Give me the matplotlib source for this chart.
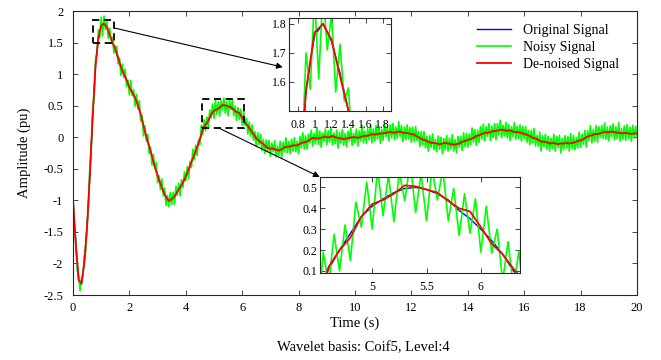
import matplotlib
matplotlib.use('Agg')
import matplotlib.pyplot as plt
import numpy as np
from matplotlib.patches import Rectangle
from matplotlib.ticker import FormatStrFormatter

plt.rcParams['font.family'] = 'serif'
plt.rcParams['font.serif'] = ['Liberation Serif', 'DejaVu Serif']
plt.rcParams['axes.unicode_minus'] = False

# sample times: signals every 0.1 s, noisy signal every 0.05 s
t = np.linspace(0, 20, 201)
t_noisy = np.linspace(0, 20, 401)

# original signal
original = [
    -1.00, -1.72, -2.25, -2.33, -2.00, -1.42, -0.58, 0.35, 1.15, 1.57,
    1.76, 1.80, 1.74, 1.63, 1.50, 1.39, 1.25, 1.12, 1.00, 0.90,
    0.79, 0.70, 0.62, 0.52, 0.36, 0.17, 0.00, -0.15, -0.30, -0.46,
    -0.60, -0.74, -0.86, -0.95, -1.00, -0.99, -0.94, -0.87, -0.79, -0.71,
    -0.63, -0.52, -0.38, -0.28, -0.17, -0.03, 0.11, 0.20, 0.28, 0.36,
    0.41, 0.445, 0.475, 0.495, 0.50, 0.49, 0.47, 0.44, 0.39, 0.35,
    0.30, 0.245, 0.18, 0.10, 0.05, -0.01, -0.06, -0.10, -0.13, -0.16,
    -0.18, -0.19, -0.20, -0.20, -0.19, -0.17, -0.15, -0.14, -0.14, -0.13,
    -0.12, -0.10, -0.08, -0.06, -0.04, -0.02, -0.02, -0.01, -0.01, 0.00,
    0.00, 0.00, 0.01, 0.00, -0.01, -0.02, -0.02, -0.02, -0.01, -0.01,
    0.00, 0.00, 0.00, 0.01, 0.02, 0.03, 0.04, 0.04, 0.05, 0.05,
    0.06, 0.07, 0.07, 0.08, 0.08, 0.08, 0.08, 0.07, 0.07, 0.06,
    0.05, 0.03, 0.01, -0.01, -0.03, -0.05, -0.07, -0.08, -0.09, -0.10,
    -0.10, -0.10, -0.10, -0.10, -0.11, -0.11, -0.11, -0.10, -0.08, -0.06,
    -0.04, -0.02, -0.01, 0.01, 0.03, 0.05, 0.06, 0.07, 0.08, 0.09,
    0.10, 0.11, 0.11, 0.11, 0.10, 0.10, 0.09, 0.09, 0.08, 0.07,
    0.05, 0.03, 0.02, 0.00, -0.02, -0.04, -0.06, -0.07, -0.08, -0.09,
    -0.09, -0.10, -0.10, -0.10, -0.10, -0.09, -0.09, -0.09, -0.08, -0.07,
    -0.05, -0.03, -0.01, 0.02, 0.03, 0.04, 0.05, 0.06, 0.07, 0.08,
    0.08, 0.08, 0.08, 0.07, 0.07, 0.06, 0.06, 0.06, 0.06, 0.06,
    0.06,
]

# de-noised signal
denoised = [
    -1.00, -1.70, -2.26, -2.32, -1.99, -1.41, -0.57, 0.36, 1.14, 1.57,
    1.77, 1.80, 1.745, 1.62, 1.50, 1.40, 1.26, 1.11, 1.00, 0.91,
    0.79, 0.71, 0.63, 0.51, 0.37, 0.18, 0.01, -0.14, -0.30, -0.47,
    -0.61, -0.74, -0.85, -0.95, -1.01, -0.98, -0.94, -0.86, -0.79, -0.72,
    -0.62, -0.51, -0.39, -0.28, -0.16, -0.03, 0.12, 0.20, 0.26, 0.36,
    0.42, 0.44, 0.47, 0.51, 0.505, 0.49, 0.475, 0.435, 0.40, 0.385,
    0.31, 0.23, 0.18, 0.11, 0.05, -0.02, -0.06, -0.09, -0.13, -0.17,
    -0.18, -0.18, -0.20, -0.21, -0.19, -0.16, -0.15, -0.15, -0.13, -0.13,
    -0.12, -0.09, -0.08, -0.07, -0.04, -0.01, -0.02, -0.02, -0.01, 0.01,
    0.00, 0.00, 0.02, 0.00, -0.01, -0.02, -0.03, -0.02, -0.01, 0.00,
    0.00, -0.01, 0.00, 0.02, 0.02, 0.03, 0.05, 0.04, 0.05, 0.06,
    0.06, 0.07, 0.08, 0.08, 0.07, 0.08, 0.09, 0.07, 0.07, 0.06,
    0.05, 0.04, 0.01, -0.01, -0.04, -0.05, -0.07, -0.09, -0.09, -0.10,
    -0.11, -0.10, -0.09, -0.10, -0.11, -0.12, -0.11, -0.10, -0.07, -0.06,
    -0.04, -0.03, -0.01, 0.02, 0.03, 0.05, 0.07, 0.07, 0.08, 0.10,
    0.10, 0.11, 0.12, 0.11, 0.10, 0.11, 0.09, 0.08, 0.08, 0.07,
    0.05, 0.04, 0.02, -0.01, -0.02, -0.04, -0.07, -0.07, -0.08, -0.10,
    -0.09, -0.10, -0.11, -0.10, -0.10, -0.09, -0.10, -0.09, -0.08, -0.06,
    -0.05, -0.03, 0.00, 0.02, 0.03, 0.05, 0.05, 0.06, 0.08, 0.08,
    0.08, 0.09, 0.08, 0.07, 0.07, 0.06, 0.07, 0.06, 0.05, 0.06,
    0.06,
]

# noisy signal, every 0.05 s
noisy = [
    -0.97, -1.44, -1.62, -2.11, -2.19, -2.43, -2.24, -2.22, -1.88, -1.81,
    -1.38, -1.13, -0.43, -0.19, 0.46, 0.59, 1.23, 1.32, 1.70, 1.575,
    1.90, 1.61, 1.92, 1.71, 1.83, 1.565, 1.73, 1.535, 1.58, 1.335,
    1.44, 1.44, 1.16, 1.255, 0.98, 1.16, 0.95, 1.08, 0.80, 0.905,
    0.67, 0.895, 0.66, 0.75, 0.49, 0.68, 0.45, 0.58, 0.26, 0.345,
    0.02, 0.185, -0.06, 0.045, -0.26, -0.155, -0.44, -0.27, -0.49, -0.40,
    -0.72, -0.61, -0.83, -0.66, -0.93, -0.805, -1.08, -0.925, -1.10, -0.875,
    -1.07, -0.875, -1.06, -0.775, -0.92, -0.73, -0.93, -0.67, -0.80, -0.55,
    -0.69, -0.465, -0.65, -0.38, -0.48, -0.19, -0.36, -0.125, -0.29, -0.04,
    -0.12, 0.19, 0.04, 0.275, 0.10, 0.32, 0.15, 0.43, 0.31, 0.525,
    0.30, 0.59, 0.365, 0.56, 0.335, 0.575, 0.435, 0.62, 0.38, 0.565,
    0.34, 0.59, 0.44, 0.585, 0.34, 0.495, 0.27, 0.47, 0.28, 0.445,
    0.19, 0.41, 0.185, 0.30, 0.05, 0.24, 0.02, 0.195, -0.05, 0.09,
    -0.15, 0.075, -0.11, 0.05, -0.21, -0.035, -0.26, -0.045, -0.23, -0.05,
    -0.30, -0.095, -0.23, -0.055, -0.31, -0.14, -0.29, -0.065, -0.32, -0.08,
    -0.23, -0.01, -0.25, -0.065, -0.26, -0.03, -0.22, -0.005, -0.23, -0.065,
    -0.26, 0.01, -0.17, 0.07, -0.19, 0.02, -0.19, 0.05, -0.09, 0.11,
    -0.14, 0.06, -0.11, 0.155, -0.11, 0.10, -0.16, 0.065, -0.06, 0.13,
    -0.12, 0.10, -0.08, 0.155, -0.12, 0.065, -0.10, 0.115, -0.17, 0.075,
    -0.09, 0.12, -0.13, 0.06, -0.15, 0.095, -0.06, 0.15, -0.13, 0.065,
    -0.09, 0.13, -0.14, 0.10, -0.06, 0.185, -0.09, 0.095, -0.10, 0.135,
    -0.04, 0.185, -0.09, 0.13, -0.06, 0.185, -0.03, 0.17, -0.10, 0.125,
    -0.05, 0.225, 0.01, 0.17, -0.06, 0.195, -0.01, 0.22, -0.04, 0.16,
    -0.02, 0.25, 0.01, 0.185, -0.07, 0.16, -0.04, 0.195, -0.02, 0.155,
    -0.08, 0.16, -0.07, 0.17, -0.05, 0.09, -0.15, 0.09, -0.12, 0.09,
    -0.17, 0.01, -0.22, 0.025, -0.16, 0.055, -0.20, -0.035, -0.23, 0.02,
    -0.19, 0.00, -0.26, -0.02, -0.20, 0.03, -0.22, -0.015, -0.18, 0.04,
    -0.22, -0.04, -0.25, 0.015, -0.16, 0.01, -0.21, 0.07, -0.15, 0.06,
    -0.16, 0.05, -0.12, 0.145, -0.08, 0.12, -0.13, 0.11, -0.08, 0.17,
    -0.03, 0.205, -0.06, 0.165, 0.01, 0.215, -0.05, 0.175, -0.01, 0.215,
    -0.04, 0.215, 0.04, 0.27, -0.01, 0.19, 0.02, 0.235, -0.01, 0.20,
    -0.05, 0.165, 0.01, 0.23, -0.03, 0.175, -0.02, 0.195, -0.06, 0.17,
    -0.02, 0.17, -0.08, 0.105, -0.12, 0.11, -0.09, 0.14, -0.14, 0.03,
    -0.14, 0.08, -0.22, 0.025, -0.15, 0.045, -0.19, 0.015, -0.22, -0.02,
    -0.18, 0.045, -0.22, 0.01, -0.16, 0.03, -0.25, -0.02, -0.20, 0.025,
    -0.17, 0.01, -0.22, 0.06, -0.18, 0.025, -0.20, -0.005, -0.17, 0.08,
    -0.16, 0.05, -0.11, 0.11, -0.15, 0.105, -0.05, 0.185, -0.09, 0.125,
    -0.06, 0.185, -0.08, 0.165, 0.00, 0.185, -0.02, 0.225, -0.03, 0.16,
    -0.06, 0.18, 0.01, 0.21, -0.04, 0.165, -0.03, 0.23, -0.06, 0.135,
    -0.03, 0.18, -0.05, 0.20, -0.02, 0.16, -0.06, 0.19, -0.01, 0.17,
    0.02,
]

labels = ['Original Signal', 'Noisy Signal', 'De-noised Signal']
colors = ['#0000ff', '#00ff00', '#ff0000']
edge = '#262626'


def draw_signals(ax):
    ax.plot(t, original, color=colors[0], lw=1.0, label=labels[0])
    ax.plot(t_noisy, noisy, color=colors[1], lw=1.2, label=labels[1])
    ax.plot(t, denoised, color=colors[2], lw=1.3, label=labels[2])


def style_axes(ax, size, xpad, ypad):
    for s in ax.spines.values():
        s.set_color(edge)
        s.set_linewidth(0.8)
    ax.tick_params(direction='in', top=True, right=True, length=3.5,
                   width=0.6, labelsize=size, color=edge)
    ax.tick_params(axis='x', pad=xpad)
    ax.tick_params(axis='y', pad=ypad)
    ax.xaxis.set_major_formatter(FormatStrFormatter('%g'))
    ax.yaxis.set_major_formatter(FormatStrFormatter('%g'))


fig = plt.figure(figsize=(6.61, 3.6), dpi=100)

# main axes
ax = fig.add_axes([73 / 661, 65 / 360, 564 / 661, 284 / 360])
draw_signals(ax)
ax.set_xlim(0, 20)
ax.set_ylim(-2.5, 2)
ax.set_xticks(np.arange(0, 21, 2))
ax.set_yticks(np.arange(-2.5, 2.01, 0.5))
style_axes(ax, 9, 5, 7)
ax.set_xlabel('Time (s)', fontsize=10.5)
ax.xaxis.set_label_coords(0.5, -0.075)
ax.set_ylabel('Amplitude (pu)', fontsize=10.5)
ax.yaxis.set_label_coords(-0.075, 0.5)

leg = ax.legend(loc='upper left', bbox_to_anchor=(477 / 661, 1 - 24 / 360),
                bbox_transform=fig.transFigure, frameon=False, fontsize=10,
                handlelength=2.45, handletextpad=0.85, labelspacing=0.3,
                borderpad=0, borderaxespad=0)

# zoom boxes and arrows
ax.add_patch(Rectangle((0.7, 1.5), 0.77, 0.36, fill=False, ec='k',
                       lw=1.3, ls=(0, (4, 2.5)), zorder=5))
ax.add_patch(Rectangle((4.58, 0.15), 1.49, 0.455, fill=False, ec='k',
                       lw=1.3, ls=(0, (4, 2.5)), zorder=5))
arrow = dict(arrowstyle='-|>', color='k', lw=0.8, shrinkA=0, shrinkB=0,
             mutation_scale=9)
ax.annotate('', xy=(7.44, 1.11), xytext=(1.47, 1.73), arrowprops=arrow)
ax.annotate('', xy=(8.75, -0.63), xytext=(5.15, 0.15), arrowprops=arrow)

# inset around the first peak
ax1 = fig.add_axes([289 / 661, 249 / 360, 102 / 661, 93 / 360])
draw_signals(ax1)
ax1.set_xlim(0.7, 1.9)
ax1.set_ylim(1.5, 1.82)
ax1.set_xticks([0.8, 1.0, 1.2, 1.4, 1.6, 1.8])
ax1.set_yticks([1.6, 1.7, 1.8])
style_axes(ax1, 8.5, 6, 2)

# inset around the second peak
ax2 = fig.add_axes([320 / 661, 87 / 360, 200 / 661, 96 / 360])
draw_signals(ax2)
ax2.set_xlim(4.52, 6.36)
ax2.set_ylim(0.09, 0.55)
ax2.set_xticks([5, 5.5, 6])
ax2.set_yticks([0.1, 0.2, 0.3, 0.4, 0.5])
style_axes(ax2, 8.5, 6, 2)

fig.text(363 / 661, 1 - 348 / 360, 'Wavelet basis: Coif5, Level:4',
         ha='center', va='center', fontsize=10.5)

fig.savefig('out.png', dpi=100)
